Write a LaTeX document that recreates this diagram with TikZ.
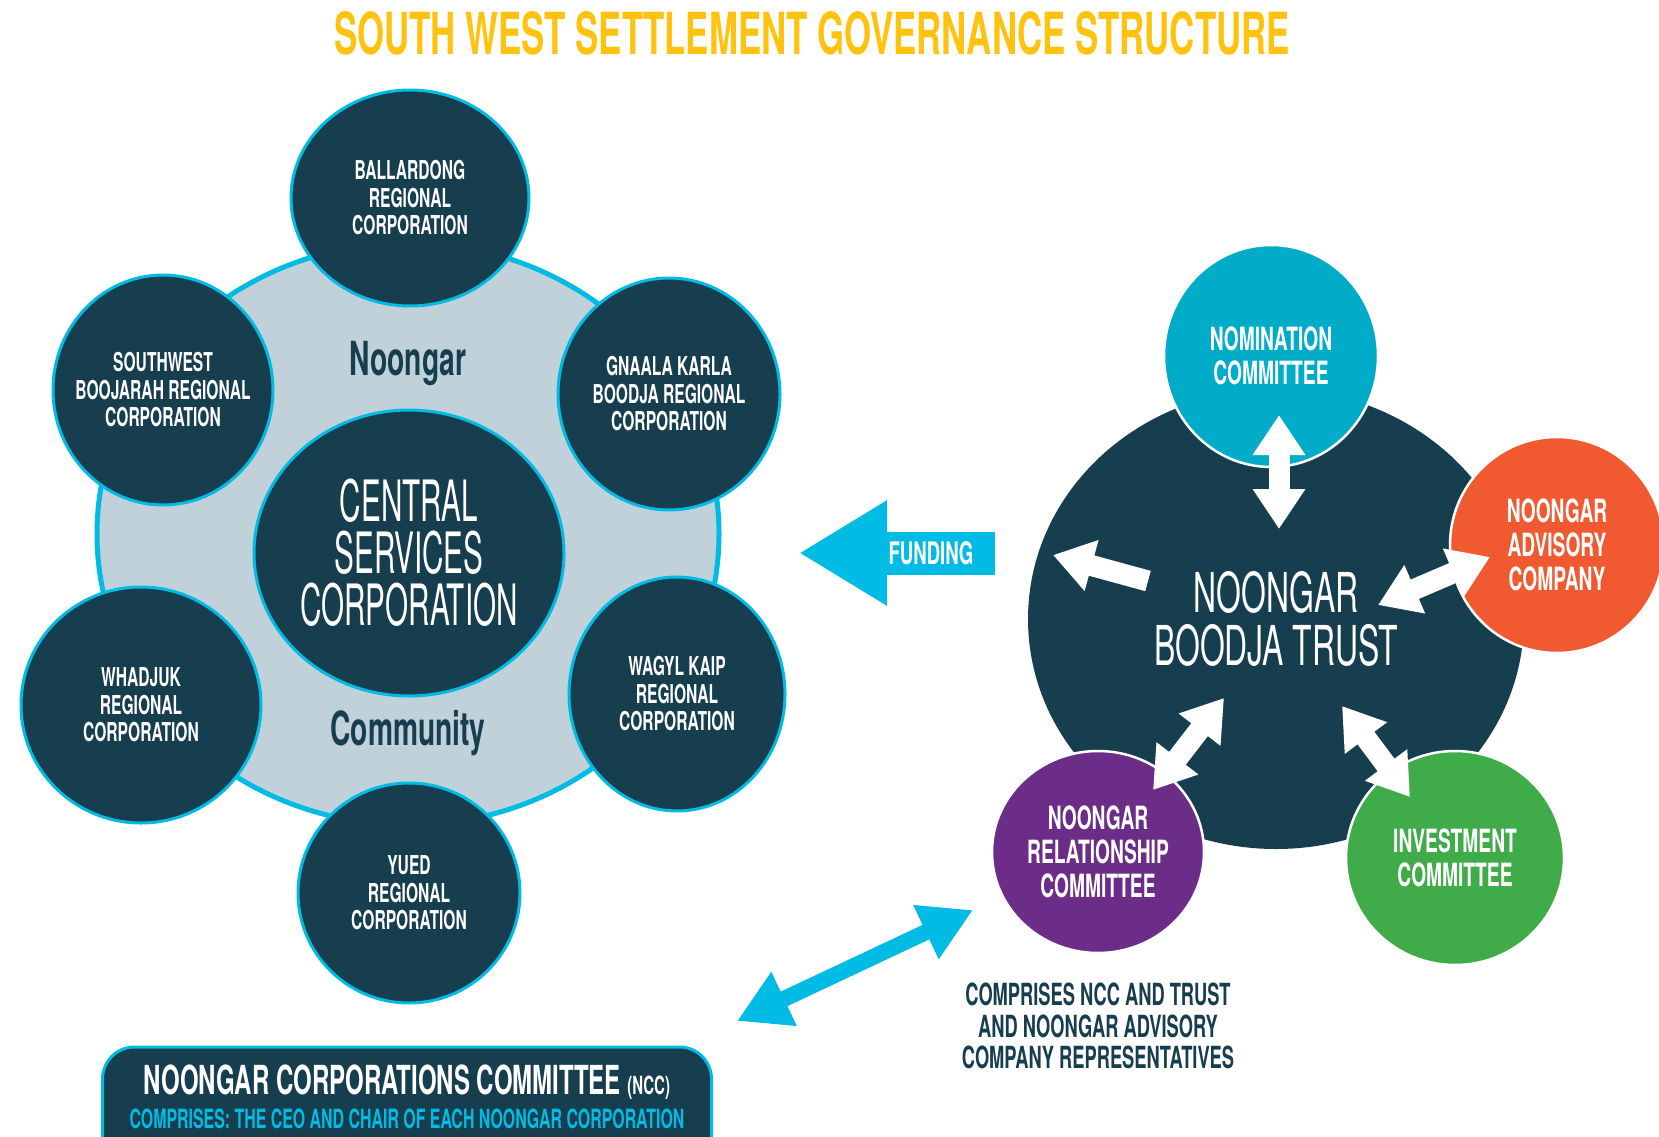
\documentclass[tikz,border=0pt]{standalone}
\usepackage{fontspec}
\setmainfont{TeX Gyre Heros}
\newfontfamily\dinfont[FakeStretch=0.6]{TeX Gyre Heros}
\newfontfamily\handfont[FakeStretch=0.52]{TeX Gyre Heros}
\newfontfamily\trustfont[FakeStretch=0.58]{TeX Gyre Heros}
\usetikzlibrary{positioning,calc,shapes.geometric,arrows.meta}

\definecolor{darkteal}{HTML}{173E4F}
\definecolor{ringcyan}{HTML}{00BCE4}
\definecolor{ringgrey}{HTML}{C0D1DA}
\definecolor{titleyellow}{HTML}{FFC20E}
\definecolor{nomteal}{HTML}{00ACC8}
\definecolor{advorange}{HTML}{F15A31}
\definecolor{invgreen}{HTML}{40AC49}
\definecolor{relpurple}{HTML}{6B2D88}

\begin{document}
\begin{tikzpicture}[x=1pt, y=-1pt,
	corp/.style={ellipse, fill=darkteal, draw=ringcyan, line width=3pt, inner sep=-25pt,
		text=white, align=center, font=\dinfont\bfseries\fontsize{26}{27.5}\selectfont},
	cmte/.style={ellipse, draw=white, line width=2.5pt, inner sep=-25pt,
		text=white, align=center, font=\dinfont\bfseries\fontsize{32}{34}\selectfont},
	label/.style={text=darkteal, font=\dinfont\bfseries\fontsize{47}{48}\selectfont},
	whitearrow/.style={white, line width=21pt},
	whitehead/.tip={Triangle[width=50pt, length=40pt]},
	bluehead/.tip={Triangle[width=56pt, length=52pt]}]
\useasboundingbox (0,0) rectangle (1659,1137);

\node [text=titleyellow, font=\dinfont\bfseries\fontsize{58}{60}\selectfont] (title) at (812,33)
	{SOUTH WEST SETTLEMENT GOVERNANCE STRUCTURE};

\begin{scope}
	\node [ellipse, fill=ringgrey, draw=ringcyan, line width=5pt, minimum width=622pt, minimum height=582pt] (ring) at (408,534) {};
	\node [label] (noongar) at (408,363) {Noongar};
	\node [label] (community) at (408,733) {Community};
	\node [corp, minimum width=310pt, minimum height=286pt, font=\handfont\fontsize{57}{52}\selectfont] (csc) at (409,553)
		{CENTRAL\\SERVICES\\CORPORATION};

	\node [corp, minimum width=238pt, minimum height=216pt] (ballardong) at (410,198) {BALLARDONG\\REGIONAL\\CORPORATION};
	\node [corp, minimum width=222pt, minimum height=232pt] (gnaala) at (669,394) {GNAALA KARLA\\BOODJA REGIONAL\\CORPORATION};
	\node [corp, minimum width=216pt, minimum height=234pt] (wagyl) at (677,694) {WAGYL KAIP\\REGIONAL\\CORPORATION};
	\node [corp, minimum width=222pt, minimum height=220pt] (yued) at (409,893) {YUED\\REGIONAL\\CORPORATION};
	\node [corp, minimum width=240pt, minimum height=236pt] (whadjuk) at (141,705) {WHADJUK\\REGIONAL\\CORPORATION};
	\node [corp, minimum width=220pt, minimum height=230pt] (southwest) at (163,390) {SOUTHWEST\\BOOJARAH REGIONAL\\CORPORATION};
\end{scope}

\coordinate (fundtail) at (995,553);
\coordinate (fundtip) at (799,553);
\draw [ringcyan, line width=43pt, -{Triangle[width=99pt, length=88pt]}] (fundtail) -- (fundtip);
\node [text=white, font=\dinfont\bfseries\fontsize{31}{32}\selectfont] (funding) at (931,553) {FUNDING};

\begin{scope}
	\node [ellipse, fill=darkteal, inner sep=0pt, minimum width=496pt, minimum height=460pt,
		text=white, align=center, font=\trustfont\fontsize{55}{53}\selectfont] (trust) at (1276,619)
		{NOONGAR\\BOODJA TRUST};
	\node [cmte, fill=nomteal, minimum width=214pt, minimum height=222pt] (nomination) at (1271,356) {NOMINATION\\COMMITTEE};
	\node [cmte, fill=advorange, minimum width=214pt, minimum height=216pt] (advisory) at (1557,545) {NOONGAR\\ADVISORY\\COMPANY};
	\node [cmte, fill=invgreen, minimum width=218pt, minimum height=214pt] (investment) at (1455,858) {INVESTMENT\\COMMITTEE};
	\node [cmte, fill=relpurple, minimum width=212pt, minimum height=202pt] (relationship) at (1098,852) {NOONGAR\\RELATIONSHIP\\COMMITTEE};

	\coordinate (nomend) at (1279,415);
	\coordinate (nomtrust) at (1279,529);
	\coordinate (leftend) at (1053,555);
	\coordinate (lefttail) at (1148,581);
	\coordinate (advend) at (1490,557);
	\coordinate (advtrust) at (1378,605);
	\coordinate (relend) at (1153,790);
	\coordinate (reltrust) at (1224,698);
	\coordinate (invend) at (1410,797);
	\coordinate (invtrust) at (1342,706);

	\draw [whitearrow, whitehead-whitehead] (nomend) -- (nomtrust);
	\draw [whitearrow, -whitehead] (lefttail) -- (leftend);
	\draw [whitearrow, whitehead-whitehead] (advtrust) -- (advend);
	\draw [whitearrow, whitehead-whitehead] (relend) -- (reltrust);
	\draw [whitearrow, whitehead-whitehead] (invtrust) -- (invend);
\end{scope}

\node [text=darkteal, align=center, font=\dinfont\bfseries\fontsize{30.5}{31.5}\selectfont] (comprises) at (1098,1026)
	{COMPRISES NCC AND TRUST\\AND NOONGAR ADVISORY\\COMPANY REPRESENTATIVES};

\node [draw=ringcyan, fill=darkteal, line width=3pt, rounded corners=32pt, minimum width=609pt, minimum height=130pt] (ncc) at (407,1112) {};
\node [text=white, font=\dinfont\bfseries\fontsize{40}{41}\selectfont] (nccname) at (407,1082)
	{NOONGAR CORPORATIONS COMMITTEE {\fontsize{25}{26}\selectfont(NCC)}};
\node [text=ringcyan, font=\dinfont\bfseries\fontsize{26.5}{27}\selectfont] (nccnote) at (407,1119)
	{COMPRISES: THE CEO AND CHAIR OF EACH NOONGAR CORPORATION};

\coordinate (nccend) at (737,1021);
\coordinate (relnear) at (973,910);
\draw [ringcyan, line width=16pt, bluehead-bluehead] (nccend) -- (relnear);

\end{tikzpicture}
\end{document}
